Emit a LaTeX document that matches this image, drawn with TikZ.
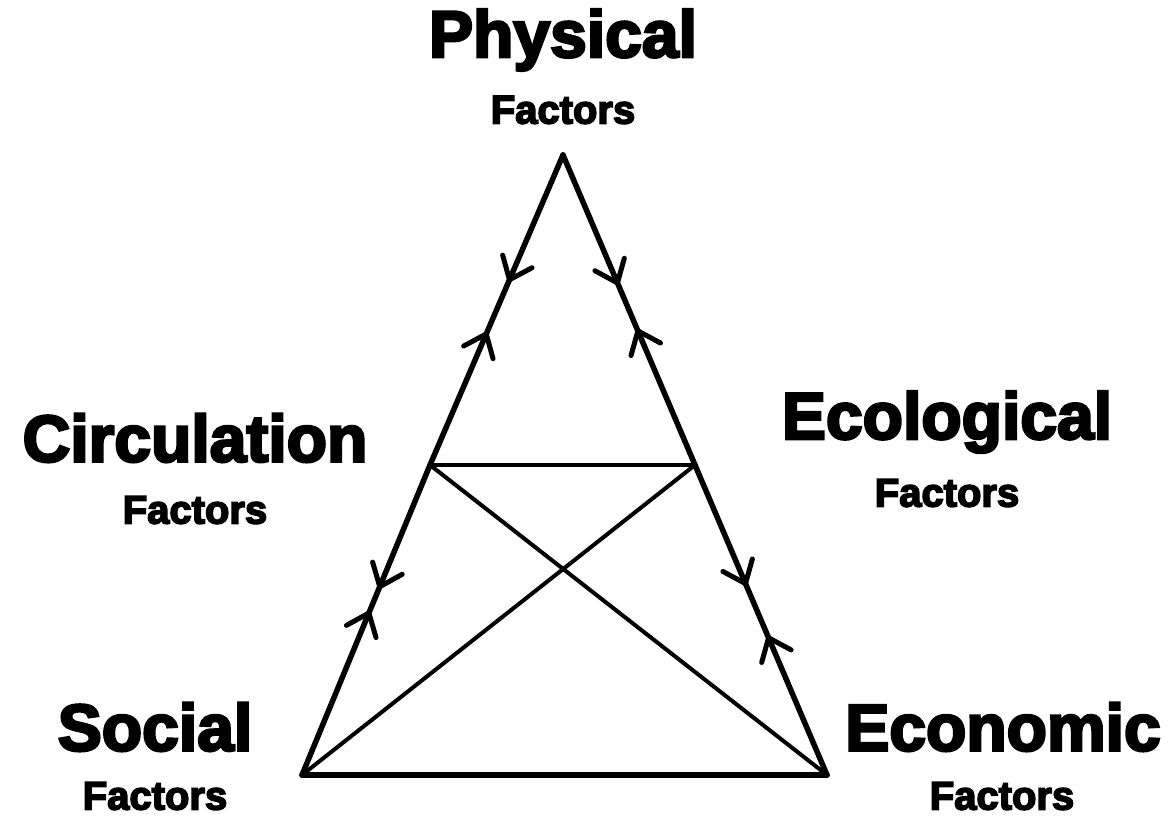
\documentclass[tikz,border=0pt]{standalone}
\usepackage{fontspec}
\setmainfont{Liberation Sans}[FakeBold=4]
\usetikzlibrary{arrows.meta,decorations.markings}
\tikzset{
  big/.style={font=\fontsize{66}{66}\selectfont\bfseries, inner sep=0pt},
  small/.style={font=\fontsize{40}{40}\selectfont\bfseries, inner sep=0pt},
  edge/.style={line width=5.5pt, line cap=round, line join=round},
  inner/.style={line width=4pt, line cap=round},
  tip/.tip={Straight Barb[length=20pt,width=32pt,line width=5pt, round]},
  marks/.style 2 args={postaction={decorate}, decoration={markings,
     mark=at position #1 with {\arrow{tip}},
     mark=at position #2 with {\arrowreversed{tip}}}}
}
\begin{document}
\begin{tikzpicture}[x=1pt,y=-1pt]
\useasboundingbox (0,0) rectangle (1169,817);
\coordinate (A) at (563,155);
\coordinate (L) at (430,465);
\coordinate (R) at (695,465);
\coordinate (BL) at (302,775);
\coordinate (BR) at (827,775);
\draw[edge, marks={0.41}{0.57}] (A) -- (L);
\draw[edge, marks={0.42}{0.56}] (A) -- (R);
\draw[edge, marks={0.40}{0.47}] (L) -- (BL);
\draw[edge, marks={0.39}{0.55}] (R) -- (BR);
\draw[edge] (BL) -- (BR);
\draw[inner] (L) -- (R);
\draw[inner] (L) -- (BR);
\draw[inner] (R) -- (BL);
\node[big] (phys) at (563,40) {Physical};
\node[small] (physf) at (563,110) {Factors};
\node[big] (circ) at (195,438) {Circulation};
\node[small] (circf) at (195,510) {Factors};
\node[big] (eco) at (947,422) {Ecological};
\node[small] (ecof) at (947,493) {Factors};
\node[big] (soc) at (155,727) {Social};
\node[small] (socf) at (155,796) {Factors};
\node[big] (econ) at (1003,727) {Economic};
\node[small] (econf) at (1002,796) {Factors};
\end{tikzpicture}
\end{document}
